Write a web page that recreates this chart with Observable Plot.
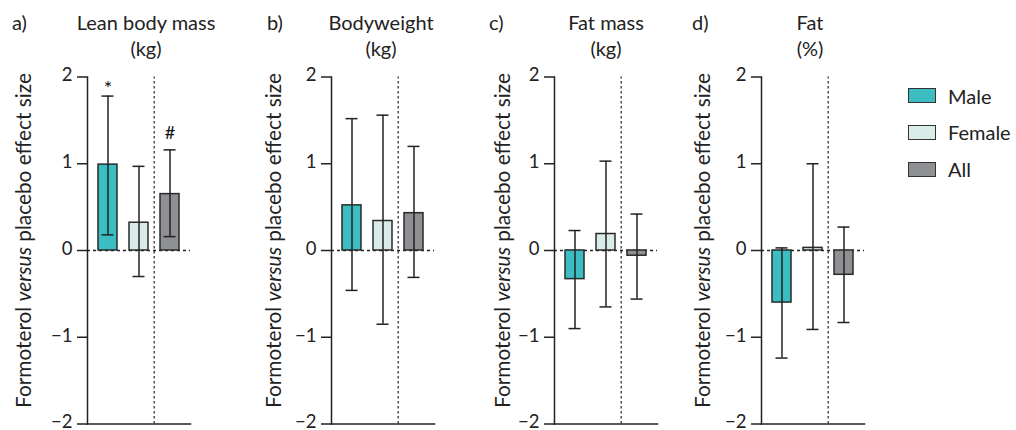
<!DOCTYPE html>
<html>
<head>
<meta charset="utf-8">
<script src="https://cdn.jsdelivr.net/npm/d3@7"></script>
<script src="https://cdn.jsdelivr.net/npm/@observablehq/plot@0.6"></script>
<style>
  html, body { margin: 0; padding: 0; background: #fff; }
  #chart { position: relative; width: 1016px; height: 430px; font-family: Lato, "Noto Sans", sans-serif; color: #222; overflow: hidden; }
  .panel { position: absolute; top: 0; }
  .title { position: absolute; width: 220px; text-align: center; font-size: 20px; line-height: 26px; }
  .letter { position: absolute; font-size: 20px; line-height: 26px; }
  .legend-row { position: absolute; display: flex; align-items: center; font-size: 20px; }
  .swatch { width: 26px; height: 13px; border: 1.5px solid #333; margin-right: 12px; }
</style>
</head>
<body>
<div id="chart"></div>
<script>
// ---- data ----
const panelLetters = ["a)", "b)", "c)", "d)"];
const titleLine1 = ["Lean body mass", "Bodyweight", "Fat mass", "Fat"];
const titleLine2 = ["(kg)", "(kg)", "(kg)", "(%)"];
const groups = ["Male", "Female", "All"];
const groupColors = ["#3bbdc1", "#daecea", "#8f9093"];

const maleValue  = [0.99, 0.52, -0.33, -0.60];
const maleLow    = [0.18, -0.46, -0.90, -1.24];
const maleHigh   = [1.78, 1.52, 0.23, 0.03];
const femaleValue = [0.32, 0.34, 0.19, 0.03];
const femaleLow   = [-0.30, -0.85, -0.65, -0.91];
const femaleHigh  = [0.97, 1.56, 1.03, 1.00];
const allValue  = [0.65, 0.43, -0.06, -0.28];
const allLow    = [0.16, -0.31, -0.56, -0.83];
const allHigh   = [1.16, 1.20, 0.42, 0.27];
const significance = [["*", "", "#"], ["", "", ""], ["", "", ""], ["", "", ""]];
const yTicks = [-2, -1, 0, 1, 2];
const yLabelParts = [["Formoterol ", false], ["versus", true], [" placebo effect size", false]];

// ---- layout ----
const axisX = [87, 331, 554, 761];
const labelBaselineOffset = [56, 50, 44, 51];
const titleCenter = [146, 381, 606, 810];
const letterX = [12, 267, 489, 692];
const frameW = 103;
const marginTop = 76.5, marginBottom = 6.5, H = 430;
const fontFamily = "Lato, 'Noto Sans', sans-serif";

const chart = document.getElementById("chart");

for (let p = 0; p < 4; p++) {
  const rows = groups.map((g, i) => ({
    group: g,
    value: [maleValue, femaleValue, allValue][i][p],
    lo: [maleLow, femaleLow, allLow][i][p],
    hi: [maleHigh, femaleHigh, allHigh][i][p],
    sig: significance[p][i]
  }));
  const mLeft = p === 0 ? axisX[0] : 80;
  const left = axisX[p] - mLeft;
  const mRight = 10;
  const plot = Plot.plot({
    width: mLeft + frameW + mRight,
    height: H,
    marginLeft: mLeft,
    marginRight: mRight,
    marginTop, marginBottom,
    style: { fontFamily, fontSize: "19px", color: "#222", background: "transparent", overflow: "visible" },
    x: { domain: groups, paddingInner: 0.4, paddingOuter: 0.33, axis: null },
    y: { domain: [-2, 2] },
    color: { domain: groups, range: groupColors },
    marks: [
      Plot.axisY({ ticks: yTicks, tickFormat: () => "", tickSize: 10, label: null, strokeWidth: 1.5 }),
      Plot.axisY({ ticks: yTicks, tickFormat: "d", tickSize: 0, tickPadding: 15, label: null, fontSize: 18.5, dy: -1.5 }),
      Plot.ruleY([0], { stroke: "#222", strokeWidth: 1.3, strokeDasharray: "3,3" }),
      Plot.ruleX(["All"], { x: d => d, y1: -2, y2: 2, dx: -15.8, stroke: "#333", strokeWidth: 1.3, strokeDasharray: "2.5,2.5" }),
      Plot.barY(rows, { x: "group", y: "value", fill: "group", stroke: "#2a2a2a", strokeWidth: 1.5 }),
      Plot.ruleX(rows, { x: "group", y1: "lo", y2: "hi", stroke: "#222", strokeWidth: 1.5 }),
      Plot.tickY(rows, { x: "group", y: "lo", insetLeft: 3.5, insetRight: 3.5, stroke: "#222", strokeWidth: 1.5 }),
      Plot.tickY(rows, { x: "group", y: "hi", insetLeft: 3.5, insetRight: 3.5, stroke: "#222", strokeWidth: 1.5 }),
      Plot.text(rows.filter(d => d.sig === "*"), { x: "group", y: "hi", text: "sig", lineAnchor: "bottom", dy: -1, fontSize: 20, fill: "#111" }),
      Plot.text(rows.filter(d => d.sig === "#"), { x: "group", y: "hi", text: "sig", lineAnchor: "bottom", dy: -11, fontSize: 18, fill: "#111" }),
      Plot.frame({ anchor: "left", stroke: "#222", strokeWidth: 1.5 }),
      Plot.frame({ anchor: "bottom", stroke: "#222", strokeWidth: 1.5 })
    ]
  });
  const wrap = document.createElement("div");
  wrap.className = "panel";
  wrap.style.left = left + "px";
  wrap.appendChild(plot);
  chart.appendChild(wrap);

  // rotated y-axis label with italic "versus"
  const svg = d3.select(plot);
  const t = svg.append("text")
    .attr("transform", `translate(${mLeft - labelBaselineOffset[p]},240.5) rotate(-90)`)
    .attr("text-anchor", "middle")
    .attr("font-family", fontFamily)
    .attr("font-size", 20.8)
    .attr("fill", "#222");
  yLabelParts.forEach(([s, it]) => {
    const ts = t.append("tspan").text(s);
    if (it) ts.attr("font-style", "italic");
  });

  // titles
  const l = document.createElement("div");
  l.className = "letter";
  l.style.left = letterX[p] + "px";
  l.style.top = "9px";
  l.textContent = panelLetters[p];
  chart.appendChild(l);
  const tt = document.createElement("div");
  tt.className = "title";
  tt.style.left = (titleCenter[p] - 110) + "px";
  tt.style.top = "9px";
  [titleLine1[p], titleLine2[p]].forEach(s => {
    const d = document.createElement("div");
    d.textContent = s;
    tt.appendChild(d);
  });
  chart.appendChild(tt);
}

// legend
const legendTop = [84, 120.5, 157.5];
groups.forEach((g, i) => {
  const row = document.createElement("div");
  row.className = "legend-row";
  row.style.left = "908px";
  row.style.top = legendTop[i] + "px";
  row.style.height = "23px";
  const sw = document.createElement("div");
  sw.className = "swatch";
  sw.style.background = groupColors[i];
  const lab = document.createElement("span");
  lab.textContent = g;
  row.appendChild(sw);
  row.appendChild(lab);
  chart.appendChild(row);
});
</script>
</body>
</html>
